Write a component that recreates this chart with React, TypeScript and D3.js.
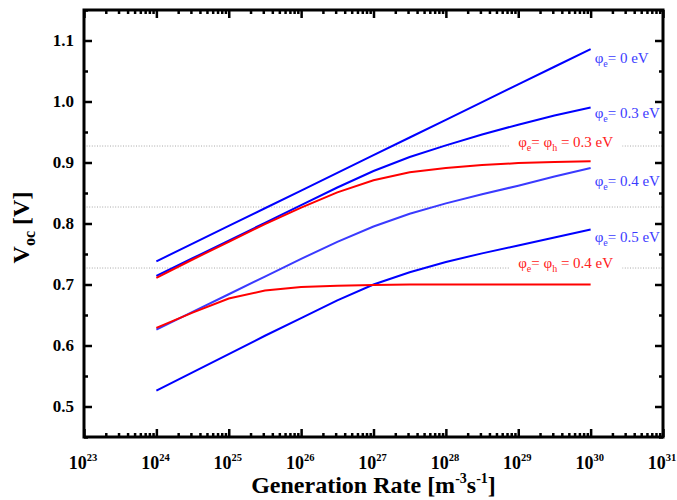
import { useEffect, useRef } from 'react';
import * as d3 from 'd3';

// generation rate samples (half decades from 1e24 to 1e30)
const genRate = [1e24, 3.162e24, 1e25, 3.162e25, 1e26, 3.162e26, 1e27, 3.162e27, 1e28, 3.162e28, 1e29, 3.162e29, 1e30];

const vocE0 = [0.738, 0.767, 0.796, 0.825, 0.854, 0.883, 0.912, 0.941, 0.970, 0.999, 1.028, 1.057, 1.086];
const vocE03 = [0.714, 0.743, 0.772, 0.801, 0.830, 0.859, 0.886, 0.909, 0.928, 0.946, 0.962, 0.977, 0.990];
const vocEH03 = [0.711, 0.741, 0.770, 0.799, 0.826, 0.851, 0.871, 0.884, 0.891, 0.896, 0.899, 0.901, 0.902];
const vocE04 = [0.626, 0.655, 0.684, 0.713, 0.742, 0.770, 0.795, 0.816, 0.833, 0.848, 0.862, 0.877, 0.891];
const vocEH04 = [0.629, 0.654, 0.677, 0.690, 0.696, 0.698, 0.699, 0.700, 0.700, 0.700, 0.700, 0.700, 0.700];
const vocE05 = [0.526, 0.556, 0.586, 0.616, 0.645, 0.674, 0.700, 0.720, 0.737, 0.751, 0.764, 0.777, 0.790];

const refLevels = [0.927, 0.827, 0.727];

const xExponents = [23, 24, 25, 26, 27, 28, 29, 30, 31];
const yTicks = [0.5, 0.6, 0.7, 0.8, 0.9, 1.0, 1.1];

const series = [
  { values: vocE0, color: '#0000ff' },
  { values: vocE03, color: '#0000ff' },
  { values: vocE04, color: '#3a3aff' },
  { values: vocE05, color: '#0000ff' },
  { values: vocEH03, color: '#ff0000' },
  { values: vocEH04, color: '#ff0000' },
];

// label: text parts, baseline in data units
const labels = [
  { parts: [['φ', ''], ['e', 'sub'], ['= 0 eV', '']], v: 1.063, color: '#3b3bff', red: false },
  { parts: [['φ', ''], ['e', 'sub'], ['= 0.3 eV', '']], v: 0.973, color: '#3b3bff', red: false },
  { parts: [['φ', ''], ['e', 'sub'], ['= 0.4 eV', '']], v: 0.861, color: '#3b3bff', red: false },
  { parts: [['φ', ''], ['e', 'sub'], ['= 0.5 eV', '']], v: 0.770, color: '#3b3bff', red: false },
  { parts: [['φ', ''], ['e', 'sub'], ['= φ', ''], ['h', 'sub'], [' = 0.3 eV', '']], v: 0.925, color: '#ff2020', red: true },
  { parts: [['φ', ''], ['e', 'sub'], ['= φ', ''], ['h', 'sub'], [' = 0.4 eV', '']], v: 0.727, color: '#ff2020', red: true },
];

const W = 677;
const H = 500;

export default function App() {
  const svgRef = useRef<SVGSVGElement>(null);

  useEffect(() => {
    const svg = d3.select(svgRef.current);
    svg.selectAll('*').remove();

    const margin = { top: 10, right: 14, bottom: 63, left: 84 };
    const innerW = W - margin.left - margin.right;
    const innerH = H - margin.top - margin.bottom;
    const font = '"Liberation Serif", "Times New Roman", serif';

    const x = d3.scaleLog().domain([1e23, 1e31]).range([0, innerW]);
    const y = d3.scaleLinear().domain([0.45, 1.15]).range([innerH, 0]);

    const g = svg.append('g').attr('transform', `translate(${margin.left},${margin.top})`);
    const refG = g.append('g');
    const maskG = g.append('g');
    const curveG = g.append('g');
    const labelG = g.append('g');

    // reference dotted lines
    refLevels.forEach(v => {
      refG.append('line')
        .attr('x1', 0).attr('x2', innerW)
        .attr('y1', y(v)).attr('y2', y(v))
        .attr('stroke', '#a8a8a8')
        .attr('stroke-width', 1)
        .attr('stroke-dasharray', '1,1.6');
    });

    // curves
    const line = d3.line<number>()
      .x((d, i) => x(genRate[i]))
      .y(d => y(d));

    series.forEach(s => {
      curveG.append('path')
        .datum(s.values)
        .attr('fill', 'none')
        .attr('stroke', s.color)
        .attr('stroke-width', 2)
        .attr('d', line);
    });

    // labels
    labels.forEach(l => {
      const t = labelG.append('text')
        .attr('font-family', font)
        .attr('font-size', 15)
        .attr('fill', l.color)
        .attr('y', y(l.v));
      if (l.red) {
        t.attr('x', x(1e30) - 25).attr('text-anchor', 'middle');
      } else {
        t.attr('x', x(1e30) + 4);
      }
      let shifted = false;
      l.parts.forEach(([str, kind]) => {
        const sp = t.append('tspan').text(str);
        if (kind === 'sub') {
          sp.attr('font-size', 10).attr('dy', 4);
          shifted = true;
        } else if (shifted) {
          sp.attr('dy', -4);
          shifted = false;
        }
      });
      if (l.red) {
        const bb = (t.node() as SVGTextElement).getBBox();
        maskG.append('rect')
          .attr('x', bb.x - 9).attr('y', bb.y)
          .attr('width', bb.width + 18).attr('height', bb.height)
          .attr('fill', '#ffffff');
      }
    });

    // axes
    const majors = xExponents.map(e => Math.pow(10, e));
    const minors: number[] = [];
    xExponents.slice(0, -1).forEach(e => {
      for (let k = 2; k <= 9; k++) minors.push(k * Math.pow(10, e));
    });
    const yMinors = d3.range(0.45, 1.151, 0.1).map(v => +v.toFixed(2));

    const axG = g.append('g');
    axG.append('g').attr('transform', `translate(0,${innerH})`)
      .call(d3.axisBottom(x).tickValues(majors).tickSize(-8).tickFormat(() => ''));
    axG.append('g').attr('transform', `translate(0,${innerH})`)
      .call(d3.axisBottom(x).tickValues(minors).tickSize(-4).tickFormat(() => ''));
    axG.append('g')
      .call(d3.axisTop(x).tickValues(majors).tickSize(-8).tickFormat(() => ''));
    axG.append('g')
      .call(d3.axisTop(x).tickValues(minors).tickSize(-4).tickFormat(() => ''));
    axG.append('g')
      .call(d3.axisLeft(y).tickValues(yTicks).tickSize(-8).tickFormat(() => ''));
    axG.append('g')
      .call(d3.axisLeft(y).tickValues(yMinors).tickSize(-4).tickFormat(() => ''));
    axG.append('g').attr('transform', `translate(${innerW},0)`)
      .call(d3.axisRight(y).tickValues(yTicks).tickSize(-8).tickFormat(() => ''));
    axG.append('g').attr('transform', `translate(${innerW},0)`)
      .call(d3.axisRight(y).tickValues(yMinors).tickSize(-4).tickFormat(() => ''));
    axG.selectAll('.domain').remove();
    axG.selectAll('.tick line').attr('stroke', '#000').attr('stroke-width', 2.5);

    g.append('rect')
      .attr('width', innerW).attr('height', innerH)
      .attr('fill', 'none').attr('stroke', '#000').attr('stroke-width', 3);

    // y tick labels
    yTicks.forEach(v => {
      g.append('text')
        .attr('x', -10).attr('y', y(v)).attr('dy', '0.35em')
        .attr('text-anchor', 'end')
        .attr('font-family', font).attr('font-weight', 'bold').attr('font-size', 17)
        .text(d3.format('.1f')(v));
    });

    // x tick labels
    xExponents.forEach(e => {
      const t = g.append('text')
        .attr('x', x(Math.pow(10, e)) - 1).attr('y', innerH + 32)
        .attr('text-anchor', 'middle')
        .attr('font-family', font).attr('font-weight', 'bold').attr('font-size', 18);
      t.append('tspan').text('10');
      t.append('tspan').attr('font-size', 10.5).attr('dy', -8).text(String(e));
    });

    // axis titles
    const xt = svg.append('text')
      .attr('x', margin.left + innerW / 2).attr('y', 493)
      .attr('text-anchor', 'middle')
      .attr('font-family', font).attr('font-weight', 'bold').attr('font-size', 24);
    xt.append('tspan').text('Generation Rate [m');
    xt.append('tspan').attr('font-size', 14).attr('dy', -10).text('-3');
    xt.append('tspan').attr('dy', 10).text('s');
    xt.append('tspan').attr('font-size', 14).attr('dy', -10).text('-1');
    xt.append('tspan').attr('dy', 10).text(']');

    const yt = svg.append('text')
      .attr('transform', `translate(29,${margin.top + innerH / 2 + 4}) rotate(-90)`)
      .attr('text-anchor', 'middle')
      .attr('font-family', font).attr('font-weight', 'bold').attr('font-size', 24);
    yt.append('tspan').text('V');
    yt.append('tspan').attr('font-size', 16).attr('dy', 6).text('oc');
    yt.append('tspan').attr('dy', -6).text(' [V]');
  }, []);

  return (
    <svg ref={svgRef} width={W} height={H}
      style={{ position: 'absolute', left: 0, top: 0, background: '#fff' }} />
  );
}
